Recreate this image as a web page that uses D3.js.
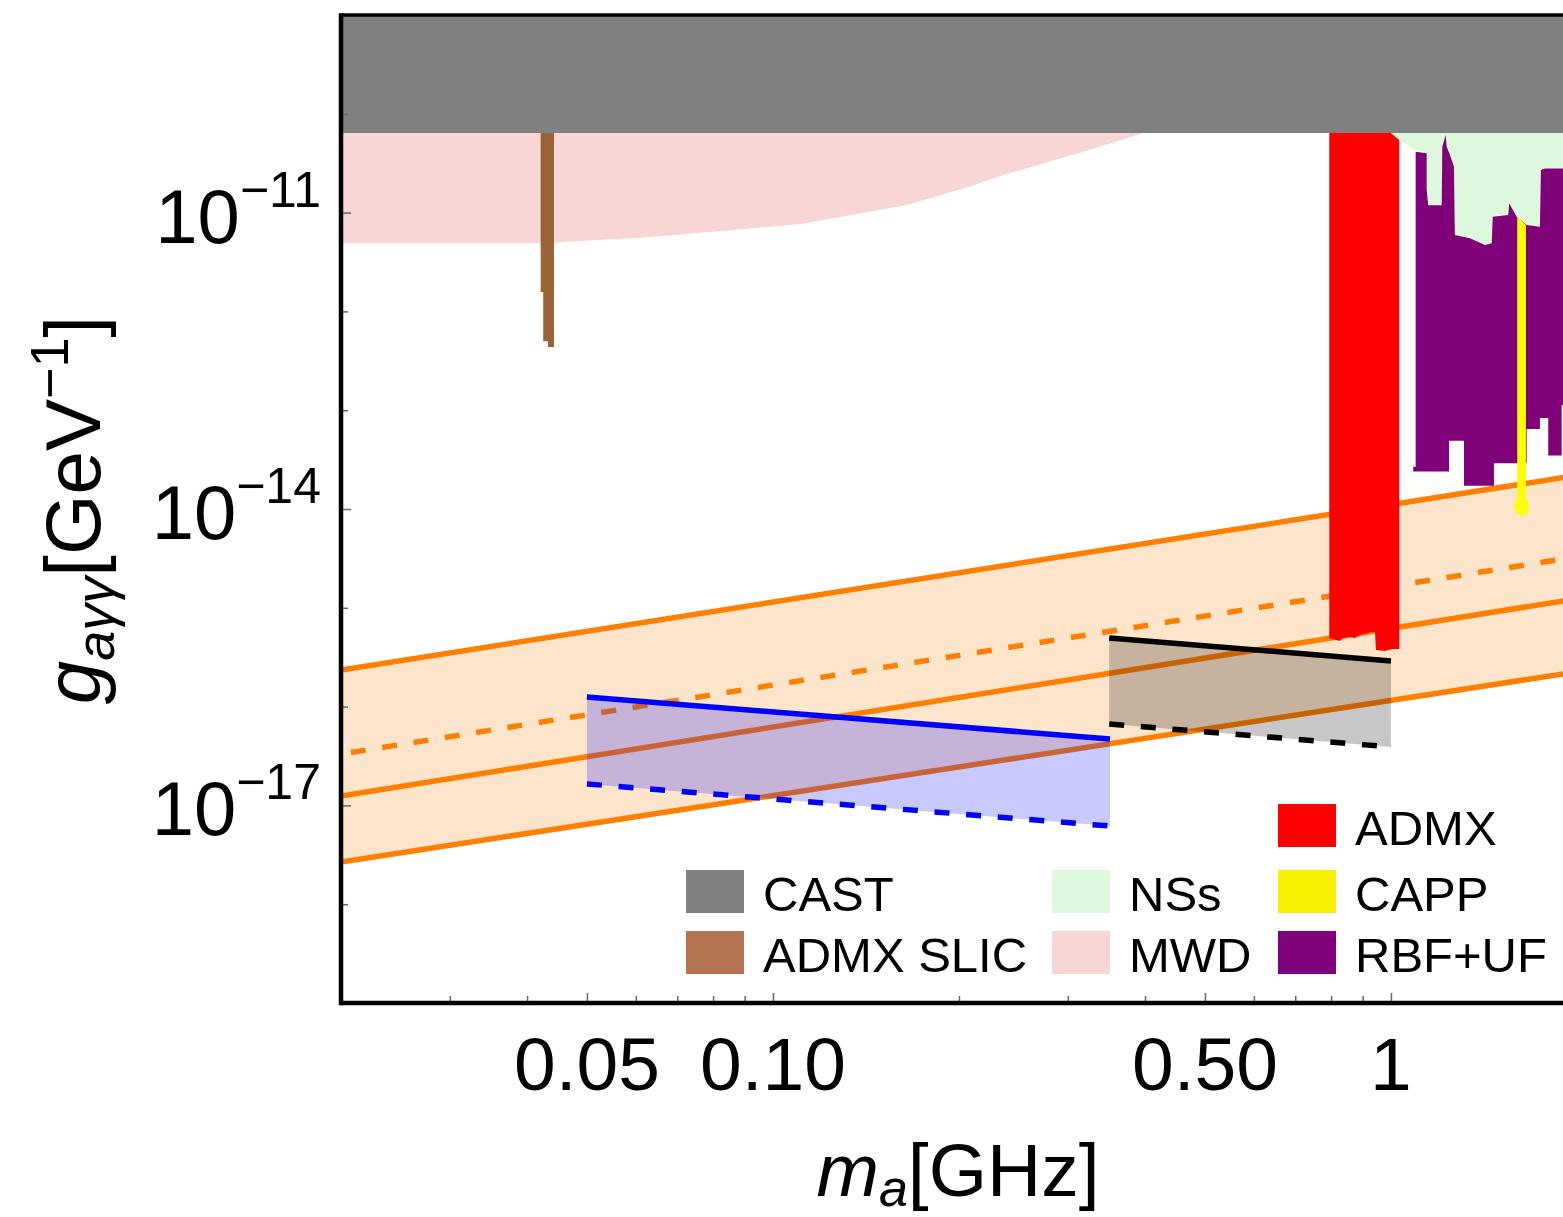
<!DOCTYPE html>
<html><head><meta charset="utf-8">
<script src="https://cdn.jsdelivr.net/npm/d3@7/dist/d3.min.js"></script>
<style>
body{margin:0;background:#fff}
svg{display:block}
text{font-family:"Liberation Sans",Arial,Helvetica,sans-serif;fill:#000}
</style></head>
<body><svg id="chart" width="1563" height="1217"></svg>
<script>
// ---------------- data ----------------
const xDomain = [0.02, 2];
const yDomain = [1e-19, 1e-9];
const xMajorTicks = [0.05, 0.1, 0.5, 1];
const xTickLabels = ["0.05", "0.10", "0.50", "1"];
const xMinorTicks = [0.03, 0.04, 0.06, 0.07, 0.08, 0.09, 0.2, 0.3, 0.4, 0.6, 0.7, 0.8, 0.9];
const yTicks = [1e-18, 1e-17, 1e-16, 1e-15, 1e-14, 1e-13, 1e-12, 1e-11, 1e-10];
const yLabelTicks = [1e-17, 1e-14, 1e-11];
const yTickExponents = ["\u221217", "\u221214", "\u221211"];

// CAST limit
const castLimit = 6.4e-11;

// MWD lower boundary
const mwdMass  = [0.02, 0.042, 0.064, 0.111, 0.164, 0.2075, 0.233, 0.325, 0.394, 0.6];
const mwdLower = [4.9e-12, 4.9e-12, 5.66e-12, 7.67e-12, 1.19e-11, 1.82e-11, 2.34e-11, 4.3e-11, 6.3e-11, 2e-10];

// ADMX SLIC (step bins)
const slicEdges = [0.04208, 0.04249, 0.04324, 0.04422];
const slicLower = [1.57e-12, 5.0e-13, 4.37e-13];

// ADMX lower boundary
const admxMass  = [0.7946, 0.8148, 0.8269, 0.8363, 0.8582, 0.8744, 0.8909, 0.9317, 0.9421, 0.9457, 0.9779, 1.0037, 1.0314];
const admxLower = [4.94e-16, 4.72e-16, 4.61e-16, 4.94e-16, 5.06e-16, 4.94e-16, 5.3e-16, 5.69e-16, 5.69e-16, 3.74e-16, 3.65e-16, 3.83e-16, 3.83e-16];

// NSs lower boundary
const nsMass  = [1.0, 1.0026, 1.0314, 1.0964, 1.1423, 1.1423, 1.149, 1.2081, 1.2689, 1.2689, 1.3423, 1.4193, 1.4556, 1.461, 1.548, 1.5538, 1.5971, 1.6578, 1.7418, 1.7483, 1.7747, 2.0];
const nsLower = [6.4e-11, 6.3e-11, 5.43e-11, 4.3e-11, 4.1e-11, 1.7e-11, 1.19e-11, 1.19e-11, 1.19e-11, 5.93e-12, 5.5e-12, 4.7e-12, 4.9e-12, 9.08e-12, 9.46e-12, 1.24e-11, 9.08e-12, 7.48e-12, 7.2e-12, 2.7e-11, 2.8e-11, 2.8e-11];

// RBF+UF region
const rbfTopMass = [1.0964, 1.1423, 1.1423, 1.149, 1.2081, 1.2108, 1.2262, 1.2307, 1.2427, 1.2642, 1.2689, 1.3423, 1.4193, 1.4556, 1.461, 1.548, 1.5538, 1.5971, 1.6578, 1.7418, 1.7483, 1.7747, 2.0];
const rbfTop     = [4.13e-11, 3.98e-11, 1.7e-11, 1.19e-11, 1.19e-11, 4.65e-11, 6.1e-11, 4.65e-11, 3.98e-11, 2.92e-11, 5.93e-12, 5.5e-12, 4.7e-12, 4.9e-12, 9.08e-12, 9.46e-12, 1.24e-11, 9.08e-12, 7.48e-12, 7.2e-12, 2.7e-11, 2.8e-11, 2.8e-11];
const rbfBottomMass = [1.0964, 1.0866, 1.0866, 1.2413, 1.2413, 1.3127, 1.3127, 1.4678, 1.4678, 1.6578, 1.6578, 1.7418, 1.7418, 1.7967, 1.7967, 1.8888, 1.8888, 2.0];
const rbfBottom     = [2.68e-14, 2.68e-14, 2.39e-14, 2.39e-14, 4.91e-14, 4.91e-14, 1.72e-14, 1.72e-14, 2.9e-14, 2.9e-14, 6.46e-14, 6.46e-14, 8.34e-14, 8.34e-14, 3.47e-14, 3.47e-14, 1.13e-13, 1.13e-13];

// CAPP outline
const cappMass = [1.6006, 1.6535, 1.6535, 1.6721, 1.6659, 1.6289, 1.5929, 1.5811, 1.6006];
const cappG    = [9.08e-12, 7.5e-12, 1.23e-14, 1.13e-14, 9.12e-15, 8.5e-15, 9.3e-15, 1.13e-14, 1.23e-14];

// Orange band lines (two end points each)
const bandMass   = [0.02, 2];
const bandUpper  = [2.34e-16, 2.19e-14];
const bandMiddle = [1.245e-17, 1.236e-15];
const bandDashed = [3.31e-17, 3.29e-15];
const bandLower  = [2.67e-18, 2.25e-16];

// Blue projection
const blueMass  = [0.05, 0.351];
const blueUpper = [1.25e-16, 4.7e-17];
const blueLower = [1.65e-17, 6.18e-18];

// Black projection
const blackMass  = [0.35, 1.0];
const blackUpper = [4.94e-16, 2.9e-16];
const blackLower = [6.67e-17, 3.9e-17];

// Legend
const legendLabels = ["CAST", "ADMX SLIC", "NSs", "MWD", "ADMX", "CAPP", "RBF+UF"];
const legendColors = ["#808080", "#b47453", "#ddf8dd", "#f9d6d6", "#ff0000", "#f8f000", "#7f007a"];
const legendCols   = [0, 0, 1, 1, 2, 2, 2];
const legendRows   = [1, 2, 1, 2, 0, 1, 2];

// ---------------- drawing ----------------
const svg = d3.select("#chart");
const P = {left: 341, right: 1577, top: 15, bottom: 1003};
const x = d3.scaleLog().domain(xDomain).range([P.left, P.right]);
const y = d3.scaleLog().domain(yDomain).range([P.bottom, P.top]);

const zip = (a, b) => a.map((v, i) => [v, b[i]]);
const line = d3.line().x(d => x(d[0])).y(d => y(d[1]));
const poly = pts => line(pts) + "Z";
const LW = 5.5;

svg.append("defs").append("clipPath").attr("id", "clip")
  .append("rect").attr("x", P.left).attr("y", P.top)
  .attr("width", P.right - P.left).attr("height", P.bottom - P.top);

const g = svg.append("g").attr("clip-path", "url(#clip)");
const yTop = yDomain[1];

// orange band
g.append("path")
  .attr("d", d3.area().x(d => x(d[0])).y0(d => y(d[2])).y1(d => y(d[1]))(
    bandMass.map((m, i) => [m, bandUpper[i], bandLower[i]])))
  .attr("fill", "#fde5cc");
const orange = "#ff7f00";
[bandUpper, bandMiddle, bandLower].forEach(arr => {
  g.append("path").attr("d", line(zip(bandMass, arr)))
    .attr("fill", "none").attr("stroke", orange).attr("stroke-width", LW);
});
g.append("path").attr("d", line(zip(bandMass, bandDashed)))
  .attr("fill", "none").attr("stroke", orange).attr("stroke-width", LW)
  .attr("stroke-dasharray", "15,16.7").attr("stroke-dashoffset", -10);

// MWD
g.append("path")
  .attr("d", poly(zip(mwdMass, mwdLower).concat([[mwdMass[mwdMass.length - 1], yTop], [mwdMass[0], yTop]])))
  .attr("fill", "#f9d6d6");

// ADMX SLIC
const slicPts = [];
slicLower.forEach((v, i) => { slicPts.push([slicEdges[i], v]); slicPts.push([slicEdges[i + 1], v]); });
g.append("path")
  .attr("d", poly(slicPts.concat([[slicEdges[slicEdges.length - 1], yTop], [slicEdges[0], yTop]])))
  .attr("fill", "#9b6236");

// ADMX
g.append("path")
  .attr("d", poly(zip(admxMass, admxLower).concat([[admxMass[admxMass.length - 1], yTop], [admxMass[0], yTop]])))
  .attr("fill", "#ff0000");

// NSs
g.append("path")
  .attr("d", poly(zip(nsMass, nsLower).concat([[nsMass[nsMass.length - 1], yTop], [nsMass[0], yTop]])))
  .attr("fill", "#ddf8dd");

// RBF+UF
g.append("path")
  .attr("d", poly(zip(rbfTopMass, rbfTop).concat(zip(rbfBottomMass, rbfBottom).reverse())))
  .attr("fill", "#7f0078");

// CAPP
g.append("path").attr("d", poly(zip(cappMass, cappG))).attr("fill", "#ffff00");

// CAST
g.append("path")
  .attr("d", poly([[xDomain[0], castLimit], [xDomain[1], castLimit], [xDomain[1], yTop], [xDomain[0], yTop]]))
  .attr("fill", "#808080");

// projection regions
function projection(mass, upper, lower, fill, stroke) {
  g.append("path")
    .attr("d", poly(zip(mass, upper).concat(zip(mass, lower).reverse())))
    .attr("fill", fill);
  g.append("path").attr("d", line(zip(mass, upper)))
    .attr("fill", "none").attr("stroke", stroke).attr("stroke-width", LW);
  g.append("path").attr("d", line(zip(mass, lower)))
    .attr("fill", "none").attr("stroke", stroke).attr("stroke-width", LW)
    .attr("stroke-dasharray", "15,16.7");
}
projection(blueMass, blueUpper, blueLower, "rgba(0,10,255,0.22)", "#0000ff");
projection(blackMass, blackUpper, blackLower, "rgba(0,0,0,0.22)", "#000000");

// ---------------- axes ----------------
const yAxis = svg.append("g").attr("transform", `translate(${P.left},0)`)
  .call(d3.axisLeft(y).tickValues(yTicks).tickSizeInner(-7).tickSizeOuter(0).tickFormat(""));
yAxis.select(".domain").remove();
yAxis.selectAll(".tick line").attr("stroke", "#666").attr("stroke-width", 1.5)
  .attr("x2", d => yLabelTicks.includes(d) ? 10 : 7);

const xAxis = svg.append("g").attr("transform", `translate(0,${P.bottom})`)
  .call(d3.axisBottom(x).tickValues(xMinorTicks.concat(xMajorTicks)).tickSizeInner(-7).tickSizeOuter(0).tickFormat(""));
xAxis.select(".domain").remove();
xAxis.selectAll(".tick line").attr("stroke", "#666").attr("stroke-width", 1.5)
  .attr("y2", d => xMajorTicks.includes(d) ? -10 : -7);

// frame
svg.append("line").attr("x1", P.left).attr("x2", P.right).attr("y1", P.top).attr("y2", P.top)
  .attr("stroke", "#000").attr("stroke-width", 3.5);
svg.append("line").attr("x1", P.left).attr("x2", P.right).attr("y1", P.bottom).attr("y2", P.bottom)
  .attr("stroke", "#000").attr("stroke-width", 4.5);
svg.append("line").attr("x1", P.left).attr("x2", P.left).attr("y1", P.top - 1.75).attr("y2", P.bottom + 2.25)
  .attr("stroke", "#000").attr("stroke-width", 4.5);
svg.append("line").attr("x1", P.right).attr("x2", P.right).attr("y1", P.top).attr("y2", P.bottom)
  .attr("stroke", "#000").attr("stroke-width", 4);

// tick labels
xMajorTicks.forEach((v, i) => {
  svg.append("text").attr("x", x(v)).attr("y", 1090).attr("text-anchor", "middle")
    .attr("font-size", 75).text(xTickLabels[i]);
});
yLabelTicks.forEach((v, i) => {
  const t = svg.append("text").attr("x", 321).attr("y", y(v) + 30).attr("text-anchor", "end")
    .attr("font-size", 76);
  t.append("tspan").text("10");
  t.append("tspan").attr("font-size", 50).attr("dy", -36).text(yTickExponents[i]);
});

// axis titles
const xt = svg.append("text").attr("x", 958).attr("y", 1196).attr("text-anchor", "middle").attr("font-size", 75);
xt.append("tspan").attr("font-style", "italic").text("m");
xt.append("tspan").attr("font-style", "italic").attr("font-size", 52).attr("dy", 10).text("a");
xt.append("tspan").attr("dy", -10).text("[GHz]");

const yt = svg.append("text").attr("transform", "translate(100,510) rotate(-90)")
  .attr("text-anchor", "middle").attr("font-size", 78);
yt.append("tspan").attr("font-style", "italic").text("g");
yt.append("tspan").attr("font-style", "italic").attr("font-size", 54).attr("dy", 14).text("a\u03b3\u03b3");
yt.append("tspan").attr("dy", -14).text("[GeV");
yt.append("tspan").attr("font-size", 54).attr("dy", -32).text("\u22121");
yt.append("tspan").attr("dy", 32).text("]");

// legend
const colX = [686, 1052, 1278];
const rowY = [804, 870, 931];
legendLabels.forEach((lab, i) => {
  const sx = colX[legendCols[i]], sy = rowY[legendRows[i]];
  svg.append("rect").attr("x", sx).attr("y", sy).attr("width", 58).attr("height", 43)
    .attr("fill", legendColors[i]);
  svg.append("text").attr("x", sx + 77).attr("y", sy + 41).attr("font-size", 49).text(lab);
});
</script>
</body></html>
